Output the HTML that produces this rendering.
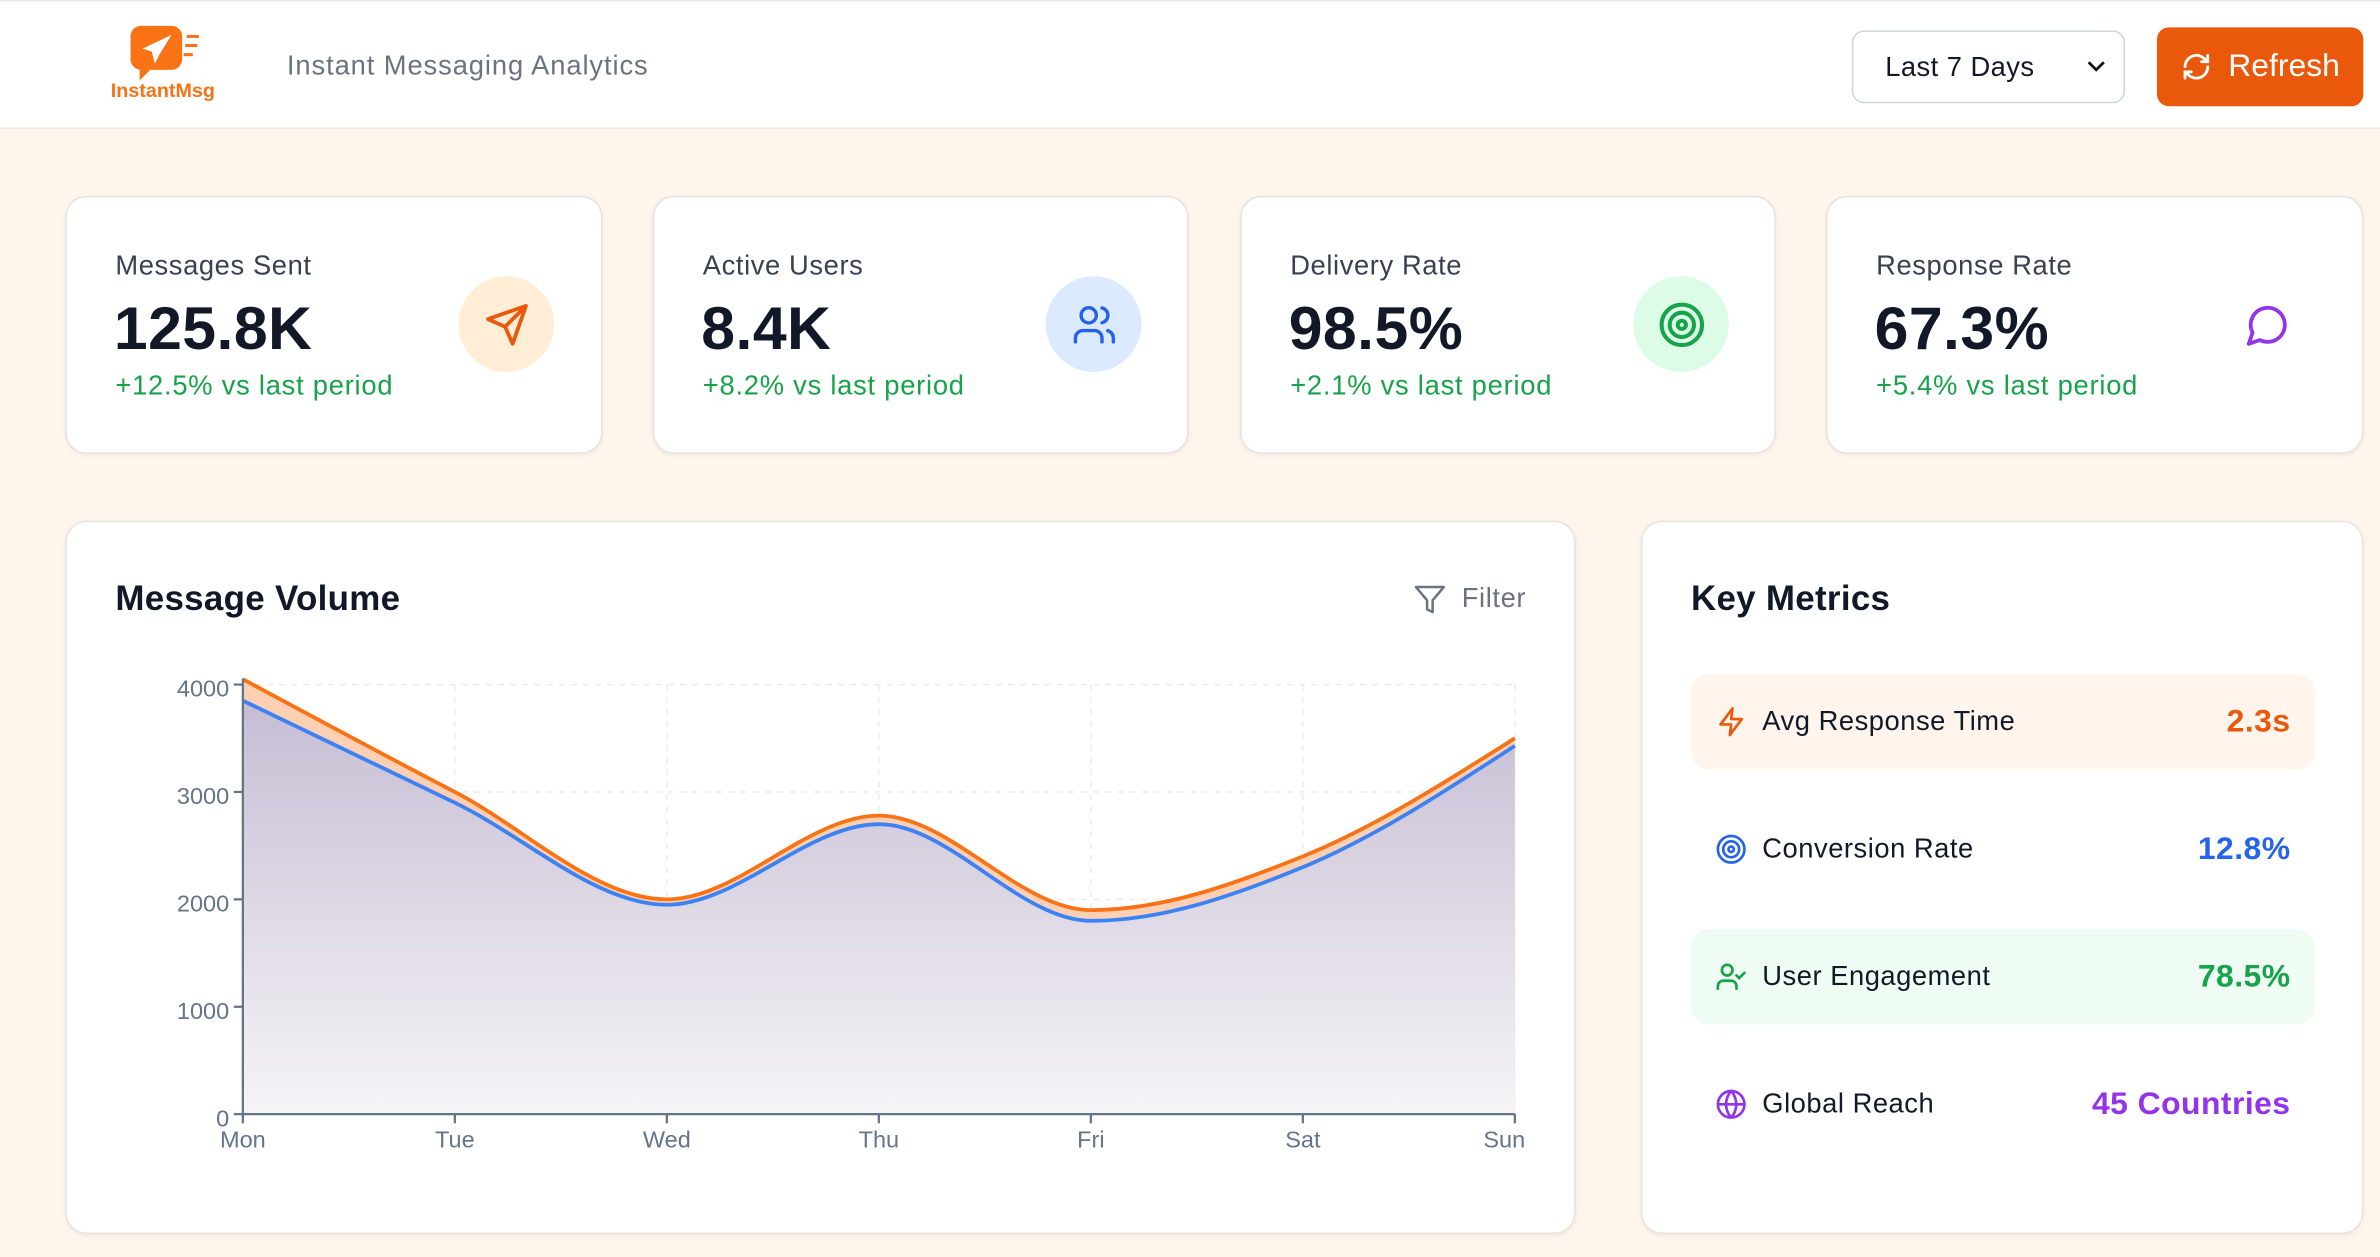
<!DOCTYPE html>
<html><head><meta charset="utf-8">
<style>
*{box-sizing:border-box;margin:0;padding:0}
html,body{width:2380px;height:1256px;overflow:hidden;background:#fff7ef}
body{font-family:"Liberation Sans",sans-serif;color:#111827}
#w{position:absolute;left:0;top:0;width:1568px;height:828px;transform:scale(1.5179);transform-origin:0 0;background:#fef5ec}
.hdr{position:absolute;left:0;top:0;width:1568px;height:85px;background:#fff;border-bottom:1px solid #f1e7dc;border-top:1px solid #e5e7eb}
.card{position:absolute;background:#fff;border:1px solid #e8e3de;border-radius:14px;box-shadow:0 1px 3px rgba(0,0,0,.05)}
.lbl{position:absolute;left:32px;top:35px;font-size:18px;color:#374151;letter-spacing:0.4px}
.val{position:absolute;left:31px;top:65px;font-size:40px;font-weight:bold;color:#111827;letter-spacing:0.3px}
.chg{position:absolute;left:32px;top:114px;font-size:18px;color:#16a34a;letter-spacing:0.5px}
.ic{position:absolute;left:258px;top:52px;width:63px;height:63px;border-radius:50%;display:flex;align-items:center;justify-content:center}
.row{position:absolute;left:32px;width:411px;height:63px;border-radius:12px}
.row .t{position:absolute;left:47px;top:21px;font-size:18px;color:#111827;letter-spacing:0.35px}
.row .v{position:absolute;right:16px;top:20px;font-size:21px;font-weight:bold;letter-spacing:0.3px}
.row svg{position:absolute;left:16px;top:21px}
</style></head><body>
<div id="w">
<div class="hdr">
  <svg style="position:absolute;left:86px;top:16px" width="48" height="36" viewBox="0 0 48 36">
    <rect x="0" y="0" width="34" height="29" rx="7" fill="#f97316"/>
    <path d="M6 29 L6 36 L13 29Z" fill="#f97316"/>
    <path d="M27 6 L8 15 L14 17 L16 25 L19 19Z" fill="#fff"/>
    <rect x="37" y="6" width="8" height="2" fill="#f97316"/><rect x="36" y="12" width="8" height="2" fill="#f97316"/><rect x="35" y="18" width="6" height="2" fill="#f97316"/>
  </svg>
  <div style="position:absolute;left:73px;top:51px;font-size:13px;font-weight:bold;color:#f97316">InstantMsg</div>
  <div style="position:absolute;left:189px;top:32px;font-size:18px;color:#6b7280;letter-spacing:0.6px">Instant Messaging Analytics</div>
  <div style="position:absolute;left:1220px;top:19px;width:180px;height:48px;border:1px solid #d1d5db;border-radius:8px;background:#fff">
    <span style="position:absolute;left:21px;top:13px;font-size:18px;color:#111827;letter-spacing:0.3px">Last 7 Days</span>
    <svg style="position:absolute;right:12px;top:19px" width="12" height="8" viewBox="0 0 12 8"><path d="M1 1l5 5 5-5" stroke="#111" stroke-width="1.8" fill="none"/></svg>
  </div>
  <div style="position:absolute;left:1421px;top:17px;width:136px;height:52px;border-radius:8px;background:#ea580c">
    <svg style="position:absolute;left:16px;top:16px" width="20" height="20" viewBox="0 0 24 24" fill="none" stroke="#fff" stroke-width="2.2" stroke-linecap="round"><path d="M3 12a9 9 0 0 1 15-6.7L21 8M21 3v5h-5M21 12a9 9 0 0 1-15 6.7L3 16M3 21v-5h5"/></svg>
    <span style="position:absolute;left:47px;top:14px;font-size:21px;color:#fff">Refresh</span>
  </div>
</div>

<div class="card" style="left:43px;top:129px;width:354px;height:170px">
  <div class="lbl">Messages Sent</div><div class="val">125.8K</div><div class="chg">+12.5% vs last period</div>
  <div class="ic" style="background:#ffedd5"><svg width="30" height="30" viewBox="0 0 24 24" fill="none" stroke="#ea580c" stroke-width="2" stroke-linejoin="round"><path d="M22 2L2 9l9 4 4 9z M22 2L11 13"/></svg></div>
</div>
<div class="card" style="left:430px;top:129px;width:353px;height:170px">
  <div class="lbl">Active Users</div><div class="val">8.4K</div><div class="chg">+8.2% vs last period</div>
  <div class="ic" style="background:#dbeafe"><svg width="30" height="30" viewBox="0 0 24 24" fill="none" stroke="#2563eb" stroke-width="1.8" stroke-linecap="round"><circle cx="9" cy="7" r="4"/><path d="M2 21v-2a4 4 0 0 1 4-4h6a4 4 0 0 1 4 4v2M16 3.1a4 4 0 0 1 0 7.8M22 21v-2a4 4 0 0 0-3-3.9"/></svg></div>
</div>
<div class="card" style="left:817px;top:129px;width:353px;height:170px">
  <div class="lbl">Delivery Rate</div><div class="val">98.5%</div><div class="chg">+2.1% vs last period</div>
  <div class="ic" style="background:#dcfce7"><svg width="32" height="32" viewBox="0 0 24 24" fill="none" stroke="#16a34a" stroke-width="2"><circle cx="12" cy="12" r="10"/><circle cx="12" cy="12" r="6"/><circle cx="12" cy="12" r="2"/></svg></div>
</div>
<div class="card" style="left:1203px;top:129px;width:354px;height:170px">
  <div class="lbl">Response Rate</div><div class="val">67.3%</div><div class="chg">+5.4% vs last period</div>
  <div class="ic" style="background:transparent"><svg width="30" height="30" viewBox="0 0 24 24" fill="none" stroke="#9333ea" stroke-width="2" stroke-linejoin="round"><path d="M7.9 20A9 9 0 1 0 4 16.1L2 22z"/></svg></div>
</div>

<div class="card" style="left:43px;top:343px;width:995px;height:470px">
  <div style="position:absolute;left:32px;top:37px;font-size:23px;font-weight:bold;color:#111827;letter-spacing:0.2px">Message Volume</div>
  <svg style="position:absolute;left:887px;top:40px" width="22" height="22" viewBox="0 0 24 24" fill="none" stroke="#6b7280" stroke-width="1.8" stroke-linejoin="round"><path d="M22 3H2l8 9.5V19l4 2v-8.5z"/></svg>
  <div style="position:absolute;left:919px;top:40px;font-size:18px;color:#6b7280;letter-spacing:0.4px">Filter</div>
</div>
<svg id="ch" style="position:absolute;left:0;top:0" width="1568" height="828"></svg>

<div class="card" style="left:1081px;top:343px;width:476px;height:470px">
  <div style="position:absolute;left:32px;top:37px;font-size:23px;font-weight:bold;color:#111827;letter-spacing:0.2px">Key Metrics</div>
  <div class="row" style="top:100px;background:#fff5ec">
    <svg width="21" height="21" viewBox="0 0 24 24" fill="none" stroke="#ea580c" stroke-width="2" stroke-linejoin="round"><path d="M13 2L4 14h8l-1 8 9-12h-8z"/></svg>
    <span class="t">Avg Response Time</span><span class="v" style="color:#ea580c">2.3s</span></div>
  <div class="row" style="top:184px">
    <svg width="21" height="21" viewBox="0 0 24 24" fill="none" stroke="#2563eb" stroke-width="2"><circle cx="12" cy="12" r="10"/><circle cx="12" cy="12" r="6"/><circle cx="12" cy="12" r="2"/></svg>
    <span class="t">Conversion Rate</span><span class="v" style="color:#2563eb">12.8%</span></div>
  <div class="row" style="top:268px;background:#effcf3">
    <svg width="21" height="21" viewBox="0 0 24 24" fill="none" stroke="#16a34a" stroke-width="2" stroke-linecap="round"><circle cx="9" cy="7" r="4"/><path d="M2 21v-2a4 4 0 0 1 4-4h6a4 4 0 0 1 4 4v2M16 11l2 2 4-4"/></svg>
    <span class="t">User Engagement</span><span class="v" style="color:#16a34a">78.5%</span></div>
  <div class="row" style="top:352px">
    <svg width="21" height="21" viewBox="0 0 24 24" fill="none" stroke="#9333ea" stroke-width="2"><circle cx="12" cy="12" r="10"/><path d="M2 12h20M12 2a15 15 0 0 1 0 20M12 2a15 15 0 0 0 0 20"/></svg>
    <span class="t">Global Reach</span><span class="v" style="color:#9333ea">45 Countries</span></div>
</div>
</div>
<script>
(function(){
var s=document.getElementById('ch');
var x0=160,x1=998,y0=734,k=283/4000;
var X=function(i){return x0+i*(x1-x0)/6},Y=function(v){return y0-v*k};
var O=[4050,3000,2000,2780,1900,2400,3500],B=[3850,2900,1950,2700,1800,2300,3430];
function mono(vals){
 var n=vals.length,px=[],py=[],m=[],t=[];
 for(var i=0;i<n;i++){px.push(X(i));py.push(Y(vals[i]));}
 for(i=0;i<n-1;i++)m.push((py[i+1]-py[i])/(px[i+1]-px[i]));
 for(i=1;i<n-1;i++){var a=m[i-1],b=m[i];t[i]=(a*b<=0)?0:(Math.sign(a)+Math.sign(b))*Math.min(Math.abs(a),Math.abs(b),0.5*Math.abs((a+b)/2));}
 t[0]=(3*m[0]-t[1])/2;t[n-1]=(3*m[n-2]-t[n-2])/2;
 var d='M'+px[0]+','+py[0];
 for(i=0;i<n-1;i++){var h=(px[i+1]-px[i])/3;d+='C'+(px[i]+h)+','+(py[i]+h*t[i])+' '+(px[i+1]-h)+','+(py[i+1]-h*t[i+1])+' '+px[i+1]+','+py[i+1];}
 return d;
}
var h='<defs><linearGradient id="g" x1="0" y1="0" x2="0" y2="1"><stop offset="0" stop-color="#c6bdd3"/><stop offset="1" stop-color="#f6f4f7"/></linearGradient></defs>';
for(var v=1000;v<=4000;v+=1000)h+='<line x1="'+x0+'" x2="'+x1+'" y1="'+Y(v)+'" y2="'+Y(v)+'" stroke="#ececec" stroke-dasharray="4 4"/>';
for(var i=1;i<=6;i++)h+='<line x1="'+X(i)+'" x2="'+X(i)+'" y1="'+Y(4000)+'" y2="'+y0+'" stroke="#ececec" stroke-dasharray="4 4"/>';
var po=mono(O),pb=mono(B);
h+='<path d="'+po+'L'+x1+','+y0+'L'+x0+','+y0+'Z" fill="#fdd0b3"/>';
h+='<path d="'+pb+'L'+x1+','+y0+'L'+x0+','+y0+'Z" fill="url(#g)"/>';
h+='<path d="'+pb+'" fill="none" stroke="#3b82f6" stroke-width="2.5"/>';
h+='<path d="'+po+'" fill="none" stroke="#f97316" stroke-width="2.5"/>';
h+='<line x1="'+x0+'" x2="'+x0+'" y1="'+(Y(4000)-4)+'" y2="'+y0+'" stroke="#64748b" stroke-width="1.5"/>';
h+='<line x1="'+x0+'" x2="'+x1+'" y1="'+y0+'" y2="'+y0+'" stroke="#64748b" stroke-width="1.5"/>';
for(v=0;v<=4000;v+=1000){h+='<line x1="'+(x0-6)+'" x2="'+x0+'" y1="'+Y(v)+'" y2="'+Y(v)+'" stroke="#64748b" stroke-width="1.5"/><text x="'+(x0-9)+'" y="'+(Y(v)+8)+'" text-anchor="end" font-size="15.5" fill="#64748b" font-family="Liberation Sans,sans-serif">'+v+'</text>';}
var D=['Mon','Tue','Wed','Thu','Fri','Sat','Sun'];
for(i=0;i<7;i++){h+='<line x1="'+X(i)+'" x2="'+X(i)+'" y1="'+y0+'" y2="'+(y0+6)+'" stroke="#64748b" stroke-width="1.5"/><text x="'+(i==6?X(i)-7:X(i))+'" y="'+(y0+22)+'" text-anchor="middle" font-size="15.5" fill="#64748b" font-family="Liberation Sans,sans-serif">'+D[i]+'</text>';}
s.innerHTML=h;
})();
</script>
</body></html>
